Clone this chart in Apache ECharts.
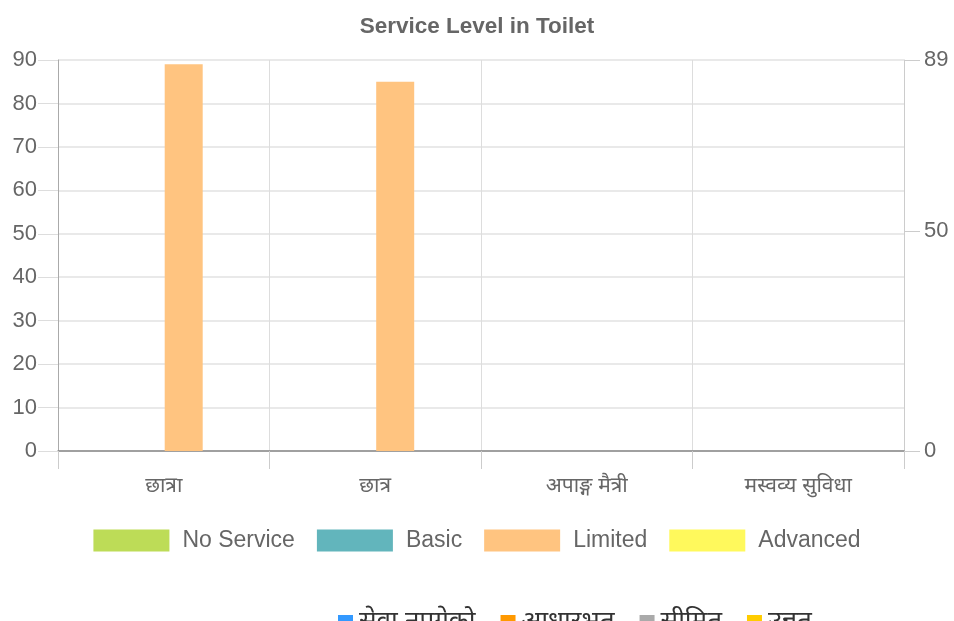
<!DOCTYPE html>
<html>
<head>
<meta charset="utf-8">
<script src="https://cdn.jsdelivr.net/npm/echarts@6/dist/echarts.min.js"></script>
<style>html,body{margin:0;padding:0;background:#fff;}#c{width:954px;height:621px;}</style>
</head>
<body>
<div id="c"></div>
<script>
var categories = ['छात्रा', 'छात्र', 'अपाङ्ग मैत्री', 'मस्वव्य सुविधा'];
var seriesNames = ['No Service', 'Basic', 'Limited', 'Advanced'];
var noService = [0, 0, 0, 0];
var basic = [0, 0, 0, 0];
var limited = [89, 85, 0, 0];
var advanced = [0, 0, 0, 0];
var seriesColors = ['#bddc57', '#62b5bc', '#ffc480', '#fff95c'];
var leftTicks = {min: 0, max: 90, interval: 10};
var rightTicks = {min: 0, max: 89, interval: 50};
var legend2Names = ['सेवा नपुगेको', 'आधारभुत', 'सीमित', 'उन्नत'];
var legend2Colors = ['#3399ff', '#ff9900', '#aaaaaa', '#ffcc00'];

var values = [noService, basic, limited, advanced];
var series = seriesNames.map(function (n, i) {
  return {
    name: n, type: 'bar', data: values[i], barWidth: 38, barGap: '5%',
    itemStyle: {color: seriesColors[i]}, yAxisIndex: 0
  };
});
legend2Names.forEach(function (n, i) {
  series.push({name: n, type: 'line', data: [], itemStyle: {color: legend2Colors[i]}});
});

var chart = echarts.init(document.getElementById('c'));
chart.setOption({
  animation: false,
  textStyle: {fontFamily: 'Liberation Sans, Noto Sans, sans-serif'},
  title: {
    text: 'Service Level in Toilet', left: 'center', top: 10,
    textStyle: {fontSize: 22.5, fontWeight: 'bold', color: '#666'}
  },
  legend: [{
    data: seriesNames, top: 524, left: 'center', itemWidth: 76, itemHeight: 22,
    itemGap: 22, icon: 'rect',
    textStyle: {fontSize: 23, color: '#666', padding: [0, 0, 0, 8]}
  }, {
    data: legend2Names, top: 604, left: 333, itemWidth: 15, itemHeight: 14,
    itemGap: 25, icon: 'rect',
    textStyle: {fontSize: 26, color: '#333', padding: [0, 0, 0, 1]}
  }],
  grid: {left: 58, right: 50, top: 60, bottom: 170, containLabel: false},
  xAxis: {
    type: 'category', data: categories,
    axisLine: {lineStyle: {color: '#888', width: 1.5}},
    axisTick: {show: true, length: 18, lineStyle: {color: '#ccc'}},
    splitLine: {show: true, lineStyle: {color: '#ddd'}},
    axisLabel: {fontSize: 21, color: '#666', margin: 25}
  },
  yAxis: [{
    type: 'value', min: leftTicks.min, max: leftTicks.max, interval: leftTicks.interval,
    axisLine: {show: true, lineStyle: {color: '#aaa'}},
    axisTick: {show: true, length: 20, lineStyle: {color: '#ddd'}},
    splitLine: {show: true, lineStyle: {color: '#e2e2e2', width: 1.5}},
    axisLabel: {fontSize: 22, color: '#666', margin: 21}
  }, {
    type: 'value', position: 'right', min: rightTicks.min, max: rightTicks.max, interval: rightTicks.interval,
    axisLine: {show: true, lineStyle: {color: '#ccc'}},
    axisTick: {show: true, length: 16, lineStyle: {color: '#ccc'}},
    splitLine: {show: false},
    axisLabel: {fontSize: 22, color: '#666', margin: 20, showMaxLabel: true}
  }],
  series: series
});
</script>
</body>
</html>
